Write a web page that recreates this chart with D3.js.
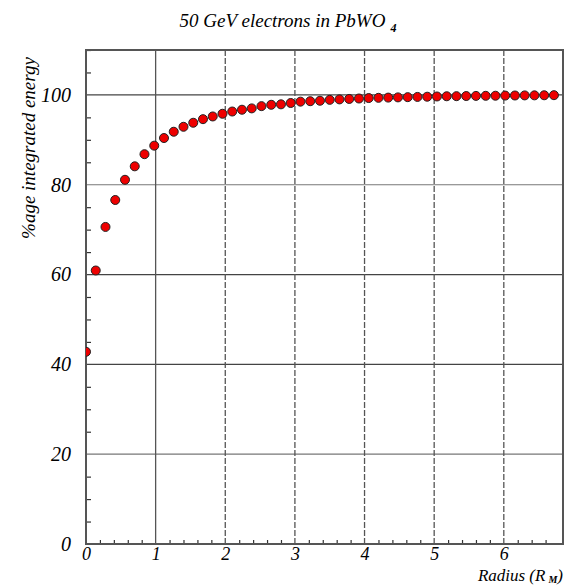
<!DOCTYPE html>
<html>
<head>
<meta charset="utf-8">
<script src="https://cdn.jsdelivr.net/npm/d3@7"></script>
<style>
  body { margin: 0; background: #fff; }
  text { font-family: "Liberation Serif", "DejaVu Serif", serif; font-style: italic; }
</style>
</head>
<body>
<svg id="chart" width="568" height="585"></svg>
<script>
// radius in Moliere radii, and % of energy contained
const radius = [0, 0.14, 0.28, 0.42, 0.56, 0.70, 0.84, 0.98, 1.12, 1.26,
  1.40, 1.54, 1.68, 1.82, 1.96, 2.10, 2.24, 2.38, 2.52, 2.66,
  2.80, 2.94, 3.08, 3.22, 3.36, 3.50, 3.64, 3.78, 3.92, 4.06,
  4.20, 4.34, 4.48, 4.62, 4.76, 4.90, 5.04, 5.18, 5.32, 5.46,
  5.60, 5.74, 5.88, 6.02, 6.16, 6.30, 6.44, 6.58, 6.72];
const energy = [42.8, 60.9, 70.6, 76.6, 81.1, 84.1, 86.8, 88.7, 90.4, 91.8,
  92.9, 93.8, 94.6, 95.2, 95.8, 96.3, 96.7, 97.0, 97.5, 97.8,
  97.9, 98.2, 98.5, 98.6, 98.7, 98.9, 99.0, 99.1, 99.2, 99.3,
  99.35, 99.4, 99.45, 99.5, 99.55, 99.6, 99.65, 99.7, 99.72, 99.75,
  99.78, 99.8, 99.82, 99.85, 99.87, 99.89, 99.9, 99.92, 99.94];
const xTicks = [0, 1, 2, 3, 4, 5, 6];
const yTicks = [0, 20, 40, 60, 80, 100];

const data = radius.map((r, i) => ({ r: r, e: energy[i] }));

const svg = d3.select("#chart");
const margin = { left: 86, top: 50, right: 5, bottom: 41 };
const W = 568 - margin.left - margin.right;
const H = 585 - margin.top - margin.bottom;

const x = d3.scaleLinear().domain([0, 6.85]).range([0, W]);
const y = d3.scaleLinear().domain([0, 110]).range([H, 0]);

const g = svg.append("g").attr("transform", `translate(${margin.left},${margin.top})`);

// grid lines
g.selectAll(".hgrid").data(yTicks.filter(d => d > 0)).enter().append("line")
  .attr("x1", 0).attr("x2", W)
  .attr("y1", d => y(d)).attr("y2", d => y(d))
  .attr("stroke", d => (d == 20 || d == 80) ? "#777" : "#444")
  .attr("stroke-width", 1.2);
g.selectAll(".vgrid").data(xTicks.filter(d => d > 0)).enter().append("line")
  .attr("y1", 0).attr("y2", H)
  .attr("x1", d => x(d)).attr("x2", d => x(d))
  .attr("stroke", "#555")
  .attr("stroke-width", 1.3)
  .attr("stroke-dasharray", d => d == 1 ? null : "6,2");

// minor ticks
const yMinor = d3.range(0, 111, 5).filter(d => d % 20 != 0);
const xMinor = d3.range(0, 34).map(i => i * 0.2).filter(d => Math.abs(d - Math.round(d)) > 0.01);
g.append("g").call(d3.axisLeft(y).tickValues(yMinor).tickSize(-5).tickFormat(""))
  .call(a => a.select(".domain").remove())
  .selectAll("line").attr("stroke", "#333").attr("stroke-width", 1.2);
g.append("g").attr("transform", `translate(0,${H})`)
  .call(d3.axisBottom(x).tickValues(xMinor).tickSize(-4).tickFormat(""))
  .call(a => a.select(".domain").remove())
  .selectAll("line").attr("stroke", "#333").attr("stroke-width", 1.2);

// tick labels
const yAxis = g.append("g").call(d3.axisLeft(y).tickValues(yTicks).tickSize(0).tickPadding(15).tickFormat(d3.format("d")));
yAxis.select(".domain").remove();
yAxis.selectAll("text").style("font-size", "20px").style("font-family", "Liberation Serif")
  .style("font-style", "italic").attr("fill", "#000");
const xAxis = g.append("g").attr("transform", `translate(0,${H})`)
  .call(d3.axisBottom(x).tickValues(xTicks).tickSize(0).tickPadding(3).tickFormat(d3.format("d")));
xAxis.select(".domain").remove();
xAxis.selectAll("text").style("font-size", "18px").style("font-family", "Liberation Serif")
  .style("font-style", "italic").attr("fill", "#000");

// frame
g.append("rect").attr("x", 0).attr("y", 0).attr("width", W).attr("height", H)
  .attr("fill", "none").attr("stroke", "#555").attr("stroke-width", 2);

// points
g.append("clipPath").attr("id", "clip").append("rect")
  .attr("x", 0).attr("y", -10).attr("width", W).attr("height", H + 10);
g.append("g").attr("clip-path", "url(#clip)")
  .selectAll("circle").data(data).enter().append("circle")
  .attr("cx", d => x(d.r)).attr("cy", d => y(d.e)).attr("r", 4.5)
  .attr("fill", "#ee0000").attr("stroke", "#222").attr("stroke-width", 1);

// title
const title = svg.append("text").attr("x", 288).attr("y", 27).attr("text-anchor", "middle")
  .style("font-size", "19px").attr("fill", "#000");
title.append("tspan").text("50 GeV electrons in PbWO");
title.append("tspan").attr("dx", 5).attr("dy", 5).style("font-size", "12px").style("font-weight", "bold").text("4");

// axis titles
svg.append("text").attr("transform", "translate(35,148) rotate(-90)")
  .attr("text-anchor", "middle").style("font-size", "19px").attr("fill", "#000")
  .text("%age integrated energy");
const xt = svg.append("text").attr("x", 563).attr("y", 581).attr("text-anchor", "end")
  .style("font-size", "17px").attr("fill", "#000");
xt.append("tspan").text("Radius (R");
xt.append("tspan").attr("dx", 3).attr("dy", 1.5).style("font-size", "10px").style("font-weight", "bold").text("M");
xt.append("tspan").attr("dy", -1.5).text(")");
</script>
</body>
</html>
